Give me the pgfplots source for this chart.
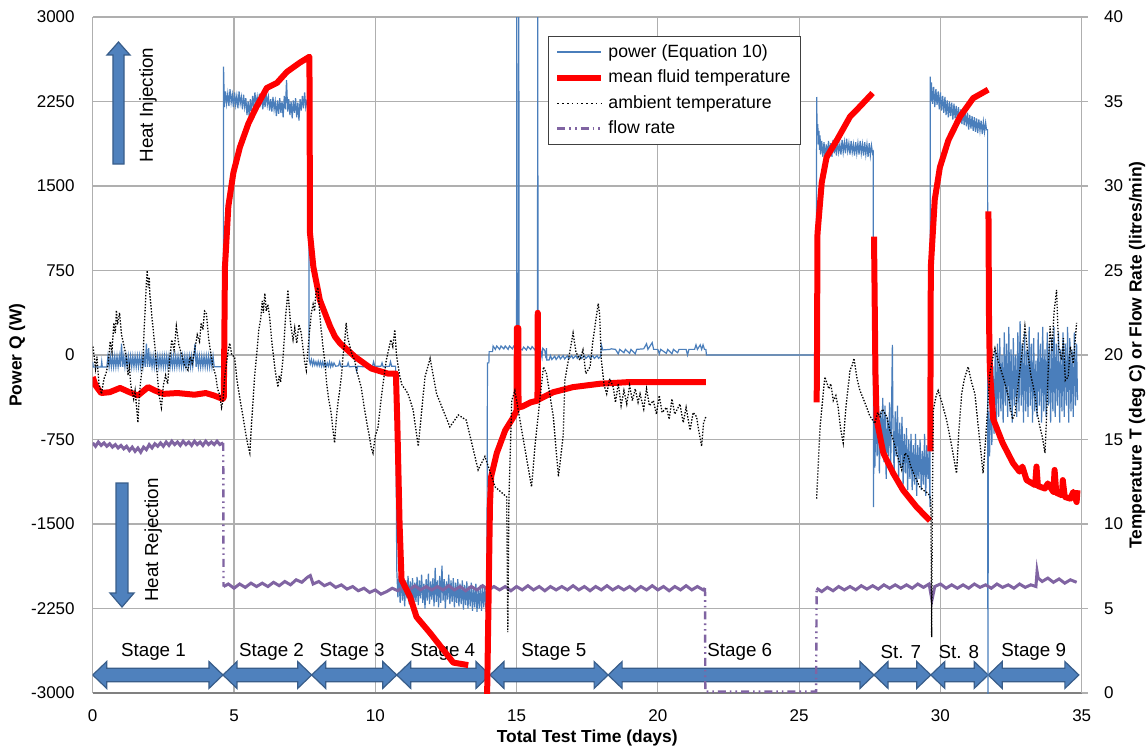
\documentclass[border=0pt]{standalone}
\usepackage{fontspec}
\setmainfont{Liberation Sans}
\usepackage{pgfplots}
\pgfplotsset{compat=1.18}
\usetikzlibrary{calc}

\definecolor{pwr}{RGB}{74,126,187}
\definecolor{arrfill}{RGB}{79,129,189}
\definecolor{arrdraw}{RGB}{56,93,138}
\definecolor{flowc}{RGB}{128,100,162}
\definecolor{gridc}{RGB}{175,175,175}

\pgfplotsset{
  pwrline/.style={color=pwr, line width=0.6pt},
  redline/.style={color=red, line width=3pt, line join=round},
  ambline/.style={black, line width=0.65pt, dash pattern=on 0.7pt off 0.8pt},
  flowline/.style={color=flowc, line width=1.5pt},
  flowdd/.style={color=flowc, line width=1.2pt, dash pattern=on 4pt off 2pt on 0.8pt off 2pt on 0.8pt off 2pt},
}

% block arrow between two days along the bottom (all in axis units)
\newcommand{\stagearrow}[2]{%
  \draw[fill=arrfill, draw=arrdraw, line width=0.6pt]
    (axis cs:#1,-2840) -- (axis cs:#1+0.495,-2721) -- (axis cs:#1+0.495,-2780)
    -- (axis cs:#2-0.495,-2780) -- (axis cs:#2-0.495,-2721) -- (axis cs:#2,-2840)
    -- (axis cs:#2-0.495,-2959) -- (axis cs:#2-0.495,-2900)
    -- (axis cs:#1+0.495,-2900) -- (axis cs:#1+0.495,-2959) -- cycle;}

\begin{document}
\begin{tikzpicture}
\begin{axis}[
  scale only axis, width=494.5pt, height=338pt,
  xmin=0, xmax=35, ymin=-3000, ymax=3000,
  xtick={0,5,...,35}, ytick={-3000,-2250,...,3000},
  axis x line*=bottom, axis y line*=left,
  x axis line style={gray, line width=0.6pt},
  y axis line style={gridc, line width=0.6pt},
  major tick length=0pt,
  grid=major, major grid style={gridc, line width=0.6pt},
  /pgf/number format/assume math mode=true,
  /pgf/number format/1000 sep={},
  tick label style={font=\fontsize{8.5}{10}\selectfont},
  yticklabel style={xshift=-5.5pt},
  xticklabel style={anchor=base, yshift=-14pt},
  xlabel={Total Test Time (days)},
  ylabel={Power Q (W)},
  every axis x label/.style={at={(axis description cs:0.5,-0.0666)}, anchor=center, font=\fontsize{8.7}{10}\selectfont\bfseries},
  every axis y label/.style={at={(axis description cs:-0.0765,0.5)}, rotate=90, anchor=center, font=\fontsize{8.7}{10}\selectfont\bfseries},
]
\coordinate (O) at (rel axis cs:0,0);

% annotations
\draw[fill=arrfill, draw=arrdraw, line width=0.6pt] (axis cs:0.913,2778) -- (axis cs:1.320,2663) -- (axis cs:1.108,2663) -- (axis cs:1.108,1695) -- (axis cs:0.718,1695) -- (axis cs:0.718,2663) -- (axis cs:0.506,2663) -- cycle;
\draw[fill=arrfill, draw=arrdraw, line width=0.6pt] (axis cs:1.037,-2237) -- (axis cs:1.462,-2113) -- (axis cs:1.249,-2113) -- (axis cs:1.249,-1136) -- (axis cs:0.825,-1136) -- (axis cs:0.825,-2113) -- (axis cs:0.612,-2113) -- cycle;
\node[rotate=90, font=\fontsize{9.4}{11}\selectfont] at (axis cs:1.96,2219) {Heat Injection};
\node[rotate=90, font=\fontsize{9.4}{11}\selectfont] at (axis cs:2.14,-1642) {Heat Rejection};
\stagearrow{0}{4.61}
\stagearrow{4.61}{7.75}
\stagearrow{7.75}{10.76}
\stagearrow{10.76}{14.06}
\stagearrow{14.06}{18.24}
\stagearrow{18.24}{27.65}
\stagearrow{27.65}{29.66}
\stagearrow{29.66}{31.69}
\stagearrow{31.69}{34.9}
\begin{scope}[font=\fontsize{9.4}{11}\selectfont]
\node at (axis cs:2.15,-2633) {Stage 1};
\node at (axis cs:6.33,-2633) {Stage 2};
\node at (axis cs:9.18,-2633) {Stage 3};
\node at (axis cs:12.39,-2633) {Stage 4};
\node at (axis cs:16.32,-2633) {Stage 5};
\node at (axis cs:22.9,-2633) {Stage 6};
\node at (axis cs:28.6,-2633) {St. 7};
\node at (axis cs:30.65,-2633) {St. 8};
\node at (axis cs:33.3,-2633) {Stage 9};
\end{scope}

% power (Equation 10)
\addplot[pwrline] coordinates {
(0,-60) (0.02,-107) (0.3,-107) (0.32,-60) (0.34,-107) (0.5,-107)
(0.54,-10) (0.58,-105) (0.62,-10) (0.66,-105) (0.70,-10) (0.74,-105) (0.78,-10) (0.82,-105) (0.86,-10) (0.90,-105) (0.94,-10) (0.98,-105) (1.02,100) (1.06,-105) (1.10,-10) (1.14,-105) (1.18,-10) (1.22,-105) (1.26,-10) (1.30,-105) (1.34,-10) (1.38,-105) (1.42,-10) (1.46,-105) (1.50,-10) (1.54,-105) (1.58,-10) (1.62,-105) (1.66,-10) (1.70,-105) (1.74,-10) (1.78,-105) (1.82,-10) (1.86,-105) (1.90,100) (1.94,-105) (1.98,60) (2.02,-105) (2.06,-10) (2.10,-105) (2.14,-10) (2.18,-105) (2.22,-10) (2.26,-105) (2.30,-10) (2.34,-105) (2.38,-10) (2.42,-105) (2.46,-10) (2.50,-105) (2.54,-10) (2.58,-105) (2.62,-10) (2.66,-105) (2.70,-10) (2.74,-105) (2.78,-10) (2.82,-105) (2.86,-10) (2.90,-105) (2.94,-10) (2.98,-105) (3.02,-10) (3.06,-105) (3.10,-10) (3.14,-105) (3.18,-10) (3.22,-105) (3.26,-10) (3.30,-105) (3.34,-10) (3.38,-105) (3.42,-10) (3.46,-105) (3.50,-10) (3.54,-105) (3.58,-10) (3.62,100) (3.66,-105) (3.70,-10) (3.74,-105) (3.78,-10) (3.82,-105) (3.86,-10) (3.90,-105) (3.94,-10) (3.98,-105) (4.02,-10) (4.06,-105) (4.10,-10) (4.14,-105) (4.18,-10) (4.22,-105) (4.26,-10) (4.30,-105) (4.62,-105)
(4.63,2560) (4.66,2200) (4.70,2340) (4.74,2230) (4.78,2320) (4.82,2210) (4.86,2360) (4.90,2240) (4.94,2310) (4.98,2200) (5.02,2330) (5.06,2220) (5.10,2300) (5.14,2190) (5.18,2340) (5.22,2230) (5.26,2290) (5.30,2180) (5.34,2310) (5.38,2200) (5.42,2280) (5.46,2130) (5.50,2250) (5.54,2110) (5.58,2270) (5.62,2150) (5.66,2300) (5.70,2200) (5.74,2330) (5.78,2220) (5.82,2290) (5.86,2190) (5.90,2320) (5.94,2230) (5.98,2280) (6.02,2180) (6.06,2300) (6.10,2200) (6.14,2340) (6.18,2220) (6.22,2290) (6.26,2170) (6.30,2270) (6.34,2160) (6.38,2290) (6.42,2180) (6.46,2250) (6.50,2120) (6.54,2260) (6.58,2140) (6.62,2280) (6.66,2150) (6.70,2250) (6.74,2110) (6.78,2300) (6.82,2180) (6.86,2440) (6.90,2160) (6.94,2270) (6.98,2130) (7.02,2250) (7.06,2100) (7.10,2260) (7.14,2150) (7.18,2280) (7.22,2110) (7.26,2240) (7.30,2080) (7.34,2270) (7.38,2170) (7.42,2300) (7.46,2190) (7.50,2330) (7.54,2200) (7.58,2260) (7.64,2250)
(7.66,-40) (7.70,-80) (7.74,-40) (7.78,-90) (7.82,-50) (7.86,-90) (7.90,-60) (7.94,-95) (7.98,-55) (8.02,-95) (8.06,-60) (8.10,-100) (8.14,-60) (8.18,-100) (8.22,-65) (8.26,-105) (8.30,-70) (8.34,-100) (8.38,-60) (8.42,-105) (8.46,-70) (8.50,-100) (8.54,-70) (8.60,-100) (8.70,-95) (8.74,-60) (8.78,-100) (9.00,-100) (9.04,-70) (9.08,-105) (9.30,-100) (9.34,-140) (9.38,-100) (9.60,-105) (9.64,-70) (9.68,-105) (9.90,-100) (9.94,-60) (9.98,-100) (10.2,-100) (10.24,-70) (10.28,-105) (10.5,-100) (10.54,-60) (10.58,-100) (10.72,-100)
(10.76,-1900) (10.80,-2150) (10.84,-1960) (10.88,-2200) (10.92,-1930) (10.96,-2180) (11.00,-1990) (11.04,-2230) (11.08,-2000) (11.12,-2160) (11.16,-1960) (11.20,-2210) (11.24,-2010) (11.28,-2170) (11.32,-1980) (11.36,-2240) (11.40,-2020) (11.44,-2190) (11.48,-1970) (11.52,-2220) (11.56,-2000) (11.60,-2160) (11.64,-1950) (11.68,-2200) (11.72,-2030) (11.76,-2250) (11.80,-1990) (11.84,-2180) (11.88,-1940) (11.92,-2210) (11.96,-2010) (12.00,-2170) (12.04,-1980) (12.08,-2230) (12.12,-1890) (12.16,-2190) (12.20,-2000) (12.24,-2240) (12.28,-1960) (12.32,-2200) (12.36,-1870) (12.40,-2180) (12.44,-1990) (12.48,-2250) (12.52,-2010) (12.56,-2170) (12.60,-1950) (12.64,-2210) (12.68,-2000) (12.72,-2190) (12.76,-1980) (12.80,-2240) (12.84,-2020) (12.88,-2200) (12.92,-1990) (12.96,-2230) (13.00,-2030) (13.04,-2210) (13.08,-2000) (13.12,-2260) (13.16,-2040) (13.20,-2220) (13.24,-2010) (13.28,-2250) (13.32,-2050) (13.36,-2230) (13.40,-2020) (13.44,-2270) (13.48,-2060) (13.52,-2240) (13.56,-2030) (13.60,-2280) (13.64,-2070) (13.68,-2250) (13.72,-2040) (13.76,-2270) (13.80,-2060) (13.84,-2240) (13.88,-2050) (13.92,-2280) (13.95,-2100)
(13.97,-70) (14.02,-70) (14.03,30) (14.15,30) (14.17,80) (14.25,50) (14.3,80) (14.4,50) (14.45,80) (14.55,55) (14.6,80) (14.7,50) (14.75,80) (14.85,55) (14.9,80) (15.0,70) (15.01,3200) (15.02,70) (15.07,70) (15.08,3200) (15.09,60) (15.2,45) (15.25,70) (15.35,45) (15.4,75) (15.5,50) (15.55,75) (15.65,45) (15.7,70) (15.74,70) (15.75,3200) (15.76,60) (15.85,50) (15.9,-20) (15.93,60) (16.0,40) (16.04,-30) (16.06,60) (16.07,-45) (16.15,-45) (16.2,-5) (16.25,-40) (16.35,-10) (16.4,-40) (16.5,-5) (16.55,-35) (16.65,-5) (16.7,-35) (16.8,-5) (16.85,-35) (16.95,-5) (17.0,-30) (17.1,-5) (17.15,-30) (17.25,-5) (17.3,-30) (17.4,-5) (17.45,-30) (17.55,-5) (17.6,-30) (17.7,-5) (17.75,-30) (17.85,-5) (17.9,-30) (17.98,-10) (18.0,90) (18.05,45) (18.3,50) (18.35,55) (18.5,50) (18.6,10) (18.65,50) (18.8,20) (18.85,50) (19.0,15) (19.05,50) (19.2,10) (19.25,50) (19.5,55) (19.6,100) (19.65,50) (19.8,110) (19.85,50) (20.0,50) (20.05,10) (20.1,50) (20.3,15) (20.35,50) (20.5,10) (20.55,50) (20.7,20) (20.75,50) (21.0,50) (21.05,0) (21.1,50) (21.3,50) (21.35,90) (21.4,50) (21.5,90) (21.55,50) (21.6,90) (21.65,50) (21.7,50) (21.72,0)
(25.61,0) (25.62,2290) (25.64,1950) (25.66,2050) (25.68,1870) (25.70,1990) (25.72,1820) (25.74,1950) (25.76,1780) (25.80,1900) (25.84,1760) (25.88,1890) (25.92,1740) (25.96,1870) (26.00,1770) (26.04,1900) (26.08,1790) (26.12,1880) (26.16,1760) (26.20,1910) (26.24,1790) (26.28,1880) (26.32,1770) (26.36,1900) (26.40,1800) (26.44,1870) (26.48,1780) (26.52,1910) (26.56,1800) (26.60,1890) (26.64,1790) (26.68,1920) (26.72,1810) (26.76,1880) (26.80,1780) (26.84,1900) (26.88,1800) (26.92,1870) (26.96,1770) (27.00,1890) (27.04,1790) (27.08,1880) (27.12,1780) (27.16,1900) (27.20,1790) (27.24,1870) (27.28,1770) (27.32,1890) (27.36,1780) (27.40,1870) (27.44,1760) (27.48,1880) (27.52,1770) (27.56,1860) (27.60,1790) (27.62,1800)
(27.63,-1350) (27.65,-500) (27.68,-1000) (27.72,-450) (27.76,-900) (27.80,-400) (27.84,-1050) (27.88,-500) (27.92,-850) (27.96,-380) (28.00,-950) (28.04,-450) (28.08,-1100) (28.12,-550) (28.16,-900) (28.20,-420) (28.24,-1000) (28.28,-300) (28.30,90) (28.32,-600) (28.36,-1050) (28.40,-500) (28.44,-900) (28.48,-450) (28.52,-1100) (28.56,-600) (28.60,-1000) (28.64,-550) (28.68,-1150) (28.72,-700) (28.76,-1050) (28.80,-650) (28.84,-1200) (28.88,-750) (28.92,-1100) (28.96,-700) (29.00,-1200) (29.04,-800) (29.08,-1150) (29.12,-700) (29.16,-1250) (29.20,-800) (29.24,-1100) (29.28,-750) (29.32,-1200) (29.36,-850) (29.40,-1150) (29.44,-700) (29.48,-1250) (29.52,-800) (29.56,-1100) (29.60,-850) (29.63,-1350)
(29.64,2470) (29.66,2250) (29.68,2420) (29.72,2230) (29.76,2380) (29.80,2200) (29.84,2360) (29.88,2220) (29.92,2340) (29.96,2180) (30.00,2330) (30.04,2170) (30.08,2300) (30.12,2150) (30.16,2290) (30.20,2130) (30.24,2260) (30.28,2110) (30.32,2250) (30.36,2120) (30.40,2240) (30.44,2090) (30.48,2230) (30.52,2100) (30.56,2210) (30.60,2080) (30.64,2200) (30.68,2060) (30.72,2180) (30.76,2050) (30.80,2190) (30.84,2040) (30.88,2160) (30.92,2030) (30.96,2150) (31.00,2000) (31.04,2130) (31.08,2010) (31.12,2120) (31.16,1990) (31.20,2110) (31.24,1980) (31.28,2100) (31.32,1970) (31.36,2090) (31.40,1990) (31.44,2080) (31.48,1960) (31.52,2070) (31.56,1980) (31.60,2060) (31.63,2000) (31.67,2000)
(31.68,-3100) (31.70,-500) (31.74,-900) (31.78,-200) (31.82,-800) (31.86,-100) (31.90,-700) (31.94,50) (31.98,-600) (32.02,100) (32.06,-550) (32.10,150) (32.14,-500) (32.18,0) (32.22,-600) (32.26,200) (32.30,-450) (32.34,100) (32.38,-550) (32.42,250) (32.46,-500) (32.50,50) (32.54,-600) (32.58,150) (32.62,-450) (32.66,0) (32.70,-550) (32.74,200) (32.78,-500) (32.82,300) (32.86,-450) (32.90,100) (32.94,-600) (32.98,200) (33.02,-500) (33.06,50) (33.10,-550) (33.14,250) (33.18,-450) (33.22,100) (33.26,-600) (33.30,150) (33.34,-500) (33.38,-50) (33.42,-550) (33.46,200) (33.50,-450) (33.54,100) (33.58,-600) (33.62,250) (33.66,-500) (33.70,50) (33.74,-550) (33.78,200) (33.82,-450) (33.86,100) (33.90,-600) (33.94,150) (33.98,-500) (34.02,250) (34.06,-550) (34.10,100) (34.14,-450) (34.18,200) (34.22,-600) (34.26,50) (34.30,-500) (34.34,200) (34.38,-550) (34.42,100) (34.46,-450) (34.50,250) (34.54,-600) (34.58,150) (34.62,-500) (34.66,50) (34.70,-550) (34.74,200) (34.78,-450) (34.82,100) (34.85,-400)
};
\end{axis}

\begin{axis}[
  scale only axis, width=494.5pt, height=338pt,
  xmin=0, xmax=35, ymin=0, ymax=40,
  ytick={0,5,...,40},
  axis x line=none, axis y line*=right,
  y axis line style={gridc, line width=0.6pt},
  ytick style={gridc, line width=0.6pt},
  tick align=outside, major tick length=3pt,
  /pgf/number format/assume math mode=true,
  tick label style={font=\fontsize{8.5}{10}\selectfont},
  yticklabel style={xshift=4.7pt},
  ylabel={Temperature T (deg C) or Flow Rate (litres/min)},
  every axis y label/.style={at={(axis description cs:1.056,0.5)}, rotate=90, anchor=center, font=\fontsize{8.7}{10}\selectfont\bfseries},
  legend style={at={(axis description cs:0.4604,0.972)}, anchor=north west,
    draw=black!75, fill=white, font=\fontsize{8.85}{10}\selectfont,
    row sep=0.8pt, inner xsep=3pt, inner ysep=2pt, cells={anchor=west}},
  legend image code/.code={\draw[#1] (0pt,0pt) -- (22pt,0pt);},
]
\addlegendimage{pwrline, line width=0.8pt}
\addlegendentry{power (Equation 10)}
\addlegendimage{redline}
\addlegendentry{mean fluid temperature}
\addlegendimage{black, line width=0.6pt, dash pattern=on 0.8pt off 1.6pt}
\addlegendentry{ambient temperature}
\addlegendimage{flowdd}
\addlegendentry{flow rate}

% flow rate
\addplot[flowline, forget plot] coordinates {
(0,14.8) (0.1,14.6) (0.2,14.85) (0.3,14.65) (0.4,14.8) (0.5,14.6) (0.6,14.75) (0.7,14.55) (0.8,14.7) (0.9,14.5) (1.0,14.65) (1.1,14.45) (1.2,14.6) (1.3,14.35) (1.4,14.55) (1.5,14.3) (1.6,14.5) (1.7,14.25) (1.8,14.55) (1.9,14.4) (2.0,14.7) (2.1,14.5) (2.2,14.75) (2.3,14.6) (2.4,14.8) (2.5,14.6) (2.6,14.85) (2.7,14.65) (2.8,14.9) (2.9,14.7) (3.0,14.85) (3.1,14.65) (3.2,14.9) (3.3,14.7) (3.4,14.85) (3.5,14.65) (3.6,14.9) (3.7,14.7) (3.8,14.85) (3.9,14.65) (4.0,14.9) (4.1,14.7) (4.2,14.85) (4.3,14.7) (4.4,14.9) (4.5,14.7) (4.62,14.8)
};
\addplot[flowdd, forget plot] coordinates {(4.62,14.8) (4.63,6.3)};
\addplot[flowline, forget plot] coordinates {
(4.63,6.3) (4.8,6.45) (5.0,6.2) (5.2,6.45) (5.4,6.25) (5.6,6.5) (5.8,6.3) (6.0,6.5) (6.2,6.3) (6.4,6.55) (6.6,6.35) (6.8,6.6) (7.0,6.4) (7.2,6.7) (7.4,6.55) (7.6,6.85) (7.7,6.95) (7.8,6.45) (8.0,6.6) (8.2,6.35) (8.4,6.5) (8.6,6.25) (8.8,6.4) (9.0,6.15) (9.2,6.3) (9.4,6.05) (9.6,6.2) (9.8,5.95) (10.0,6.1) (10.2,5.85) (10.4,6.0) (10.6,6.2) (10.8,6.05) (11.0,6.3) (11.2,6.1) (11.4,6.35) (11.6,6.1) (11.8,6.3) (12.0,6.1)
(12.2,6.3) (12.4,6.1) (12.6,6.35) (12.8,6.1) (13.0,6.3) (13.2,6.05) (13.4,6.3) (13.6,6.1) (13.8,6.35) (14.0,6.1) (14.2,6.3) (14.4,6.1) (14.6,6.3) (14.8,6.05) (15.0,6.3) (15.2,6.1) (15.4,6.35) (15.6,6.1) (15.8,6.3) (16.0,6.05) (16.2,6.3) (16.4,6.1) (16.6,6.3) (16.8,6.1) (17.0,6.35) (17.2,6.1) (17.4,6.3) (17.6,6.05) (17.8,6.3) (18.0,6.1) (18.2,6.35) (18.4,6.1) (18.6,6.3) (18.8,6.1) (19.0,6.3) (19.2,6.05) (19.4,6.3) (19.6,6.1) (19.8,6.35) (20.0,6.1) (20.2,6.3) (20.4,6.05) (20.6,6.3) (20.8,6.1) (21.0,6.35) (21.2,6.1) (21.4,6.3) (21.6,6.1) (21.67,6.2)
};
\addplot[flowdd, forget plot] coordinates {(21.67,6.2) (21.68,0.08) (25.6,0.08) (25.62,6.2)};
\addplot[flowline, forget plot] coordinates {
(25.62,6.2) (25.8,6.0) (26.0,6.25) (26.2,6.05) (26.4,6.3) (26.6,6.1) (26.8,6.3) (27.0,6.1) (27.2,6.35) (27.4,6.15) (27.6,6.35) (27.8,6.15) (28.0,6.4) (28.2,6.2) (28.4,6.4) (28.6,6.2) (28.8,6.4) (29.0,6.2) (29.2,6.45) (29.4,6.25) (29.6,6.45) (29.7,5.5) (29.8,6.3) (30.0,6.45) (30.2,6.2) (30.4,6.4) (30.6,6.2) (30.8,6.4) (31.0,6.2) (31.2,6.45) (31.4,6.25) (31.6,6.4) (31.8,6.2) (32.0,6.45) (32.2,6.25) (32.4,6.4) (32.6,6.2) (32.8,6.45) (33.0,6.25) (33.2,6.4) (33.38,6.3) (33.42,7.2) (33.46,6.8) (33.6,6.6) (33.8,6.8) (34.0,6.55) (34.2,6.75) (34.4,6.5) (34.6,6.7) (34.82,6.55)
};

% mean fluid temperature
\addplot[redline, forget plot] coordinates {
(0,18.7) (0.1,18.2) (0.3,17.75) (0.6,17.8) (0.97,18.05) (1.3,17.8) (1.6,17.6) (1.96,18.1) (2.2,17.9) (2.5,17.7) (3.0,17.75) (3.3,17.7) (3.6,17.65) (4.0,17.75) (4.3,17.6) (4.6,17.4) (4.64,17.5) (4.65,19.3) (4.68,25.2) (4.80,28.8) (4.98,30.8) (5.21,32.3) (5.51,33.7) (5.80,34.7) (6.16,35.8) (6.52,36.1) (6.87,36.75) (7.33,37.3) (7.67,37.65) (7.69,27.2) (7.81,25.2) (8.04,23.25) (8.40,21.7) (8.57,21.1) (8.75,20.7) (9.28,19.9) (9.86,19.2) (10.45,18.9) (10.73,18.9) (10.78,16.0) (10.86,10.0) (10.93,6.7) (11.23,5.7) (11.46,4.5) (11.94,3.55) (12.41,2.55) (12.76,1.8) (13.29,1.65)
};
\addplot[redline, forget plot] coordinates {
(13.95,-1) (14.06,11.2) (14.1,12.8) (14.3,14.2) (14.6,15.55) (14.88,16.3) (15.0,16.7) (15.01,21.6) (15.06,21.6) (15.07,16.9) (15.2,16.95) (15.5,17.2) (15.74,17.3) (15.75,22.5) (15.76,17.35) (16.3,17.8) (17.0,18.1) (17.95,18.3) (19.0,18.4) (20.2,18.4) (21.7,18.4)
};
\addplot[redline, forget plot] coordinates {
(25.62,17.2) (25.63,19.3) (25.65,27.2) (25.8,30.2) (25.97,31.7) (26.33,32.7) (26.8,34.1) (27.15,34.7) (27.6,35.5)
};
\addplot[redline, forget plot] coordinates {
(27.65,27.0) (27.70,19.0) (27.74,16.2) (27.98,14.2) (28.33,13.0) (28.68,12.0) (29.16,11.0) (29.63,10.2)
};
\addplot[redline, forget plot] coordinates {
(29.64,14.3) (29.65,19.3) (29.66,25.2) (29.8,29.2) (29.98,31.1) (30.28,32.7) (30.69,34.1) (31.16,35.2) (31.69,35.7)
};
\addplot[redline, forget plot] coordinates {
(31.70,28.5) (31.72,22) (31.75,19.1) (31.87,16.2) (32.2,14.8) (32.57,13.6) (32.8,13.1) (32.9,13.4) (33.05,12.6) (33.35,12.3) (33.4,13.4) (33.45,12.25) (33.7,12.1) (33.8,12.4) (34.0,11.9) (34.04,13.2) (34.1,11.85) (34.3,11.7) (34.33,12.6) (34.4,11.6) (34.6,11.5) (34.7,11.9) (34.82,11.3) (34.85,12.0)
};

% ambient temperature
\addplot[ambline, forget plot] coordinates {
(0.01,20.5) (0.1,19.2) (0.15,19.9) (0.22,18.3) (0.31,17.7) (0.4,18.6) (0.47,18.9) (0.55,19.5) (0.62,20.8) (0.68,20.2) (0.75,21.9) (0.8,21.3) (0.84,22.65) (0.88,21.8) (0.95,22.5) (1.02,21.2) (1.1,20.6) (1.19,19.9) (1.25,18.8) (1.3,19.3) (1.35,18.2) (1.45,17.4) (1.5,17.9) (1.6,16.0) (1.65,17.6) (1.7,18.5) (1.78,19.7) (1.82,21.5) (1.86,22.8) (1.9,24.3) (1.93,25.0) (1.96,24.0) (2.0,24.6) (2.02,23.65) (2.1,22.2) (2.2,20.5) (2.28,19.0) (2.35,17.6) (2.43,16.9) (2.5,18.2) (2.58,18.8) (2.65,18.3) (2.72,19.7) (2.8,20.9) (2.88,20.3) (2.96,21.7) (3.05,20.6) (3.15,20.0) (3.25,19.4) (3.37,19.1) (3.45,19.9) (3.52,19.5) (3.61,20.3) (3.7,21.2) (3.78,20.8) (3.84,21.9) (3.9,21.5) (3.96,22.6) (4.02,22.5) (4.1,21.0) (4.18,20.1) (4.26,19.3) (4.35,18.8) (4.42,18.0) (4.5,17.6) (4.56,16.9) (4.61,17.3)
(4.68,18.8) (4.75,19.7) (4.8,20.3) (4.85,20.7) (4.92,20.0) (5.02,19.9) (5.1,18.6) (5.2,17.5) (5.32,16.35) (5.42,15.3) (5.5,14.6) (5.56,14.2) (5.62,15.9) (5.68,17.4) (5.73,18.7) (5.8,20.0) (5.88,21.5) (5.95,22.2) (6.0,23.2) (6.04,22.5) (6.09,23.65) (6.14,22.6) (6.2,23.0) (6.26,22.25) (6.35,20.6) (6.45,19.2) (6.5,18.6) (6.56,18.1) (6.6,18.8) (6.65,18.4) (6.73,19.7) (6.78,21.0) (6.83,22.4) (6.87,23.0) (6.91,23.85) (6.95,22.9) (7.0,21.9) (7.05,21.3) (7.09,20.9) (7.15,21.6) (7.22,20.7) (7.3,21.8) (7.38,21.3) (7.45,20.3) (7.5,19.6) (7.56,19.1) (7.62,20.4) (7.68,21.5) (7.74,22.5) (7.8,23.0) (7.85,22.6) (7.9,23.7) (7.97,24.0) (8.02,22.8) (8.08,21.6) (8.14,20.6) (8.21,19.7) (8.28,18.3) (8.35,17.4) (8.44,16.55) (8.5,15.6) (8.56,14.8) (8.62,16.2) (8.68,17.2) (8.74,17.9) (8.8,18.7) (8.86,20.0) (8.92,20.8) (8.97,21.9) (9.03,21.0) (9.1,20.5) (9.18,20.0) (9.27,19.7) (9.35,19.0) (9.42,18.6) (9.5,18.1) (9.6,17.0) (9.7,16.0) (9.8,15.1) (9.86,14.5) (9.92,14.2) (10.0,15.2) (10.1,15.75) (10.2,17.3) (10.3,18.6) (10.39,19.7) (10.47,20.3) (10.55,20.9) (10.62,20.5) (10.69,21.5) (10.75,20.0) (10.86,18.8) (10.95,18.2) (11.05,18.0) (11.16,17.7)
(11.34,16.75) (11.52,14.6) (11.76,18.7) (11.94,19.8) (12.17,17.7) (12.64,15.75) (12.94,16.45) (13.22,16.15) (13.64,13.2) (13.88,14.0) (14.24,12.2) (14.65,11.6) (14.69,3.6) (14.73,11.5) (14.83,17.3) (14.94,17.9) (15.12,16.15) (15.53,12.2) (15.65,14.6) (15.95,19.3) (16.06,18.9) (16.3,16.35) (16.48,12.8) (16.65,15.2) (16.71,18.5) (17.0,21.3) (17.1,20.2) (17.24,19.7) (17.35,20.3) (17.45,18.9) (17.6,19.3) (17.7,20.8) (17.8,22.0) (17.89,23.05) (17.94,22.4)
(18.0,19.7) (18.1,18.2) (18.19,17.7) (18.3,18.6) (18.42,18.1) (18.5,17.2) (18.6,18.3) (18.7,17.0) (18.8,17.9) (18.9,17.1) (19.0,18.2) (19.1,17.3) (19.2,18.0) (19.3,17.2) (19.37,17.7) (19.5,16.8) (19.6,18.0) (19.7,17.0) (19.84,17.3) (19.95,16.5) (20.05,17.6) (20.15,16.6) (20.31,16.9) (20.4,16.2) (20.5,17.4) (20.6,16.5) (20.78,17.1) (20.9,16.0) (21.0,16.9) (21.14,15.55) (21.25,16.6) (21.37,16.35) (21.45,15.5) (21.55,14.6) (21.62,16.0) (21.7,16.35)
};
\addplot[ambline, forget plot] coordinates {
(25.62,11.5) (25.74,15.75) (25.91,18.7) (26.05,18.0) (26.12,18.3) (26.21,17.3) (26.3,17.6) (26.38,16.9) (26.47,15.6) (26.56,14.8) (26.65,16.8) (26.8,19.1) (26.88,19.4) (26.94,19.8) (27.05,18.6) (27.15,17.9) (27.25,17.5) (27.39,16.9) (27.5,16.4) (27.68,15.95) (27.78,16.6) (27.86,16.35) (27.95,16.8) (28.1,16.35) (28.2,15.6) (28.33,15.0) (28.45,14.2) (28.63,13.2) (28.75,14.2) (28.86,14.0) (28.95,13.4) (29.1,12.8) (29.27,12.2) (29.4,12.0) (29.57,11.8) (29.66,11.5) (29.69,3.3) (29.72,12) (29.75,16.75) (29.85,17.6) (29.92,17.9) (30.05,17.2) (30.22,16.15) (30.4,14.6) (30.57,13.0) (30.65,15.4) (30.75,17.7) (30.85,18.6) (30.98,19.3) (31.1,18.4) (31.22,17.7) (31.35,15.6) (31.51,13.0) (31.6,15.0) (31.75,18.9) (31.85,19.8) (31.93,20.4) (32.05,19.6) (32.22,18.7) (32.4,17.6) (32.55,16.2) (32.64,16.55) (32.72,17.8) (32.81,19.1) (32.9,20.3) (32.99,21.7) (33.1,20.0) (33.2,18.8) (33.34,17.7) (33.42,16.6) (33.52,15.75) (33.6,15.2) (33.7,14.2) (33.76,16.5) (33.82,19.4) (33.88,21.7) (33.95,20.2) (34.02,22.5) (34.11,23.85) (34.18,20.5) (34.29,19.7) (34.35,21.0) (34.42,18.5) (34.52,18.7) (34.6,20.5) (34.7,19.5) (34.82,21.9)
};
\end{axis}
\pgfresetboundingbox
\path[use as bounding box] ($(O)+(-46.35pt,-29.5pt)$) rectangle ($(O)+(526.65pt,346.5pt)$);
\end{tikzpicture}
\end{document}
